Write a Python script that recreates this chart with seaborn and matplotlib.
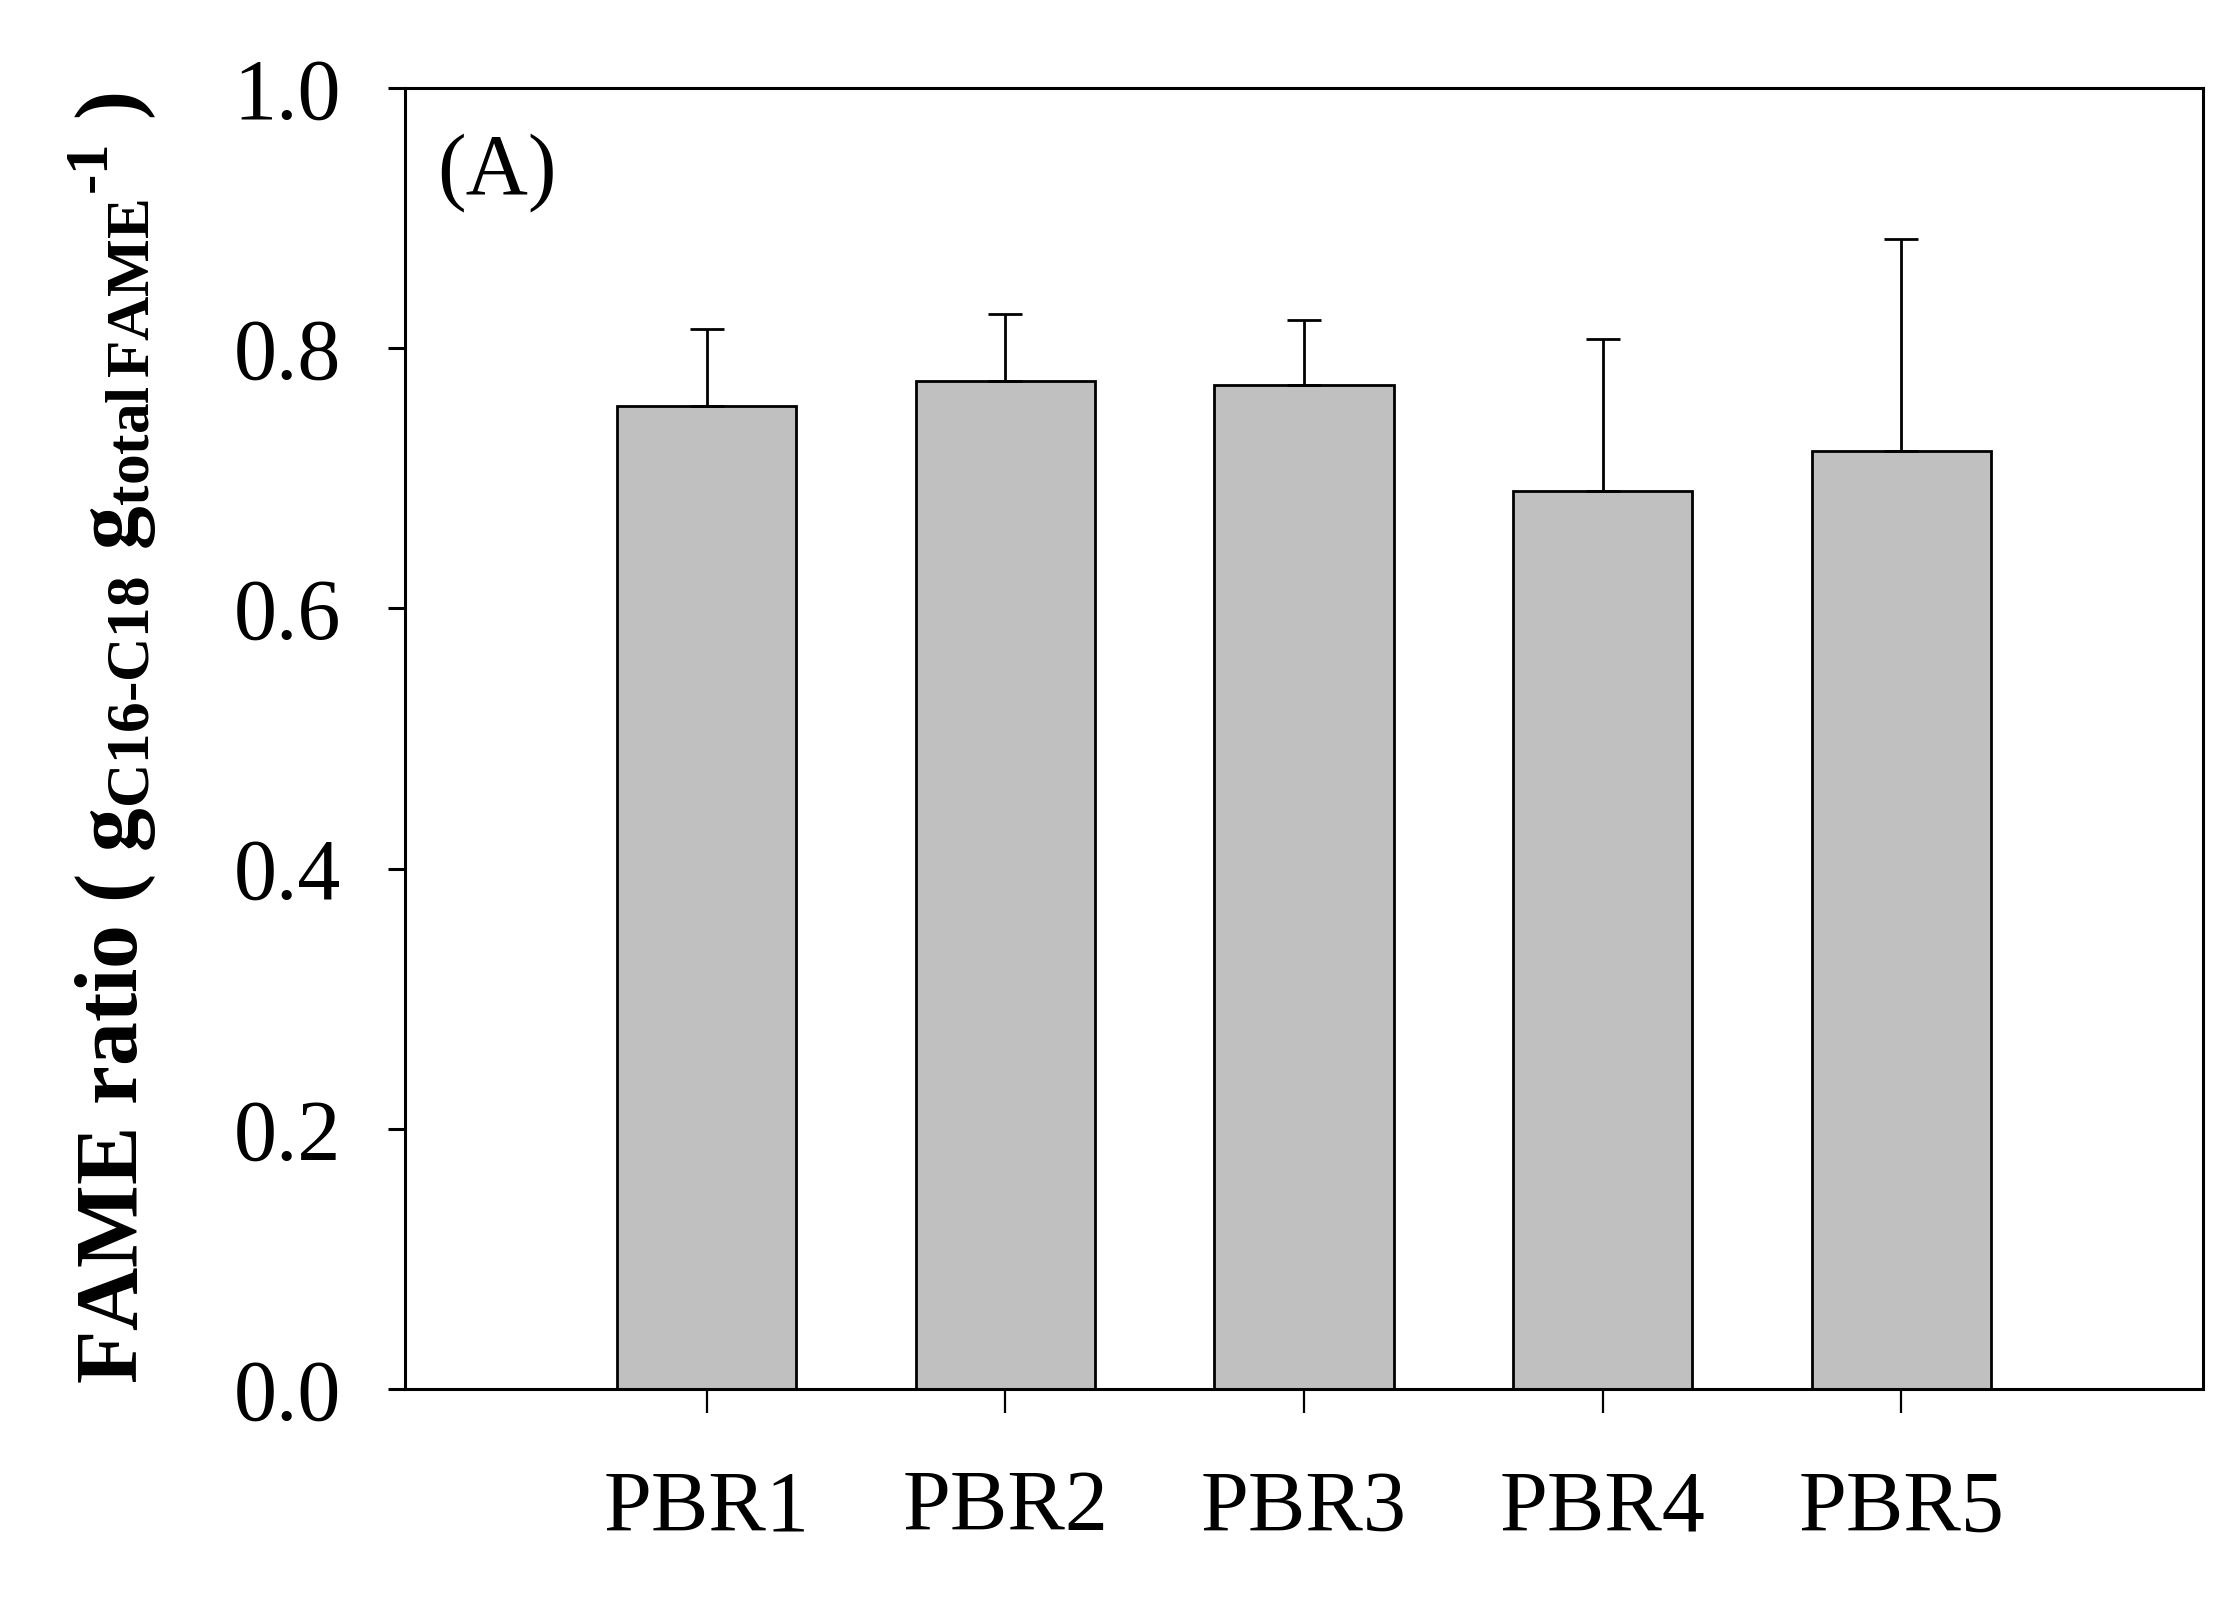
import numpy as np
import pandas as pd
import matplotlib
matplotlib.use("Agg")
import matplotlib.pyplot as plt
import seaborn as sns

# values
reactors = ["PBR1", "PBR2", "PBR3", "PBR4", "PBR5"]
fame_ratio = [0.756, 0.775, 0.772, 0.690, 0.721]
fame_err = [0.059, 0.051, 0.050, 0.117, 0.163]

df = pd.DataFrame({"reactor": reactors, "ratio": fame_ratio, "err": fame_err})

sns.set_style("ticks")
plt.rcParams["font.family"] = ["Liberation Serif", "DejaVu Serif"]
plt.rcParams["text.color"] = "black"
plt.rcParams["mathtext.fontset"] = "custom"
plt.rcParams["mathtext.rm"] = "Liberation Serif:bold"
plt.rcParams["mathtext.it"] = "Liberation Serif:bold"
plt.rcParams["mathtext.bf"] = "Liberation Serif:bold"

fig = plt.figure(figsize=(22.17, 15.98), dpi=100)
ax = fig.add_axes([0.1827, 0.1307, 0.8109, 0.8142])

sns.barplot(data=df, x="reactor", y="ratio", color="#c0c0c0", edgecolor="black",
            linewidth=2.0, width=0.6, errorbar=None, saturation=1, ax=ax)
for p in ax.patches:
    p.set_facecolor("#c0c0c0")

# only the upper half of the error bar is shown
ax.errorbar(np.arange(len(reactors)), df["ratio"], yerr=[np.zeros(len(reactors)), df["err"]],
            fmt="none", ecolor="black", elinewidth=2.0, capsize=12.5, capthick=2.0, zorder=1)

ax.set_xlim(-1.01, 5.01)
ax.set_ylim(0, 1.0)
ax.set_yticks([0.0, 0.2, 0.4, 0.6, 0.8, 1.0])
ax.set_yticklabels(["0.0", "0.2", "0.4", "0.6", "0.8", "1.0"])

for s in ax.spines.values():
    s.set_visible(True)
    s.set_linewidth(2.2)
    s.set_color("black")

ax.tick_params(axis="y", direction="out", length=12, width=2.2, pad=34, labelsize=62, colors="black")
ax.tick_params(axis="x", direction="out", length=17, width=1.6, pad=41, labelsize=62, colors="black")

ax.set_xlabel("")
ax.set_ylabel(r"FAME ratio ( $\mathrm{g_{C16‐C18}\ g_{total\,FAME}{}^{‐1}}$ )",
              fontsize=63, fontweight="bold", color="black")
ax.yaxis.set_label_coords(-0.137, 0.5)

ax.text(0.018, 0.935, "(A)", transform=ax.transAxes, fontsize=62, ha="left", va="center",
        color="black")

fig.savefig("out.png", dpi=100)
